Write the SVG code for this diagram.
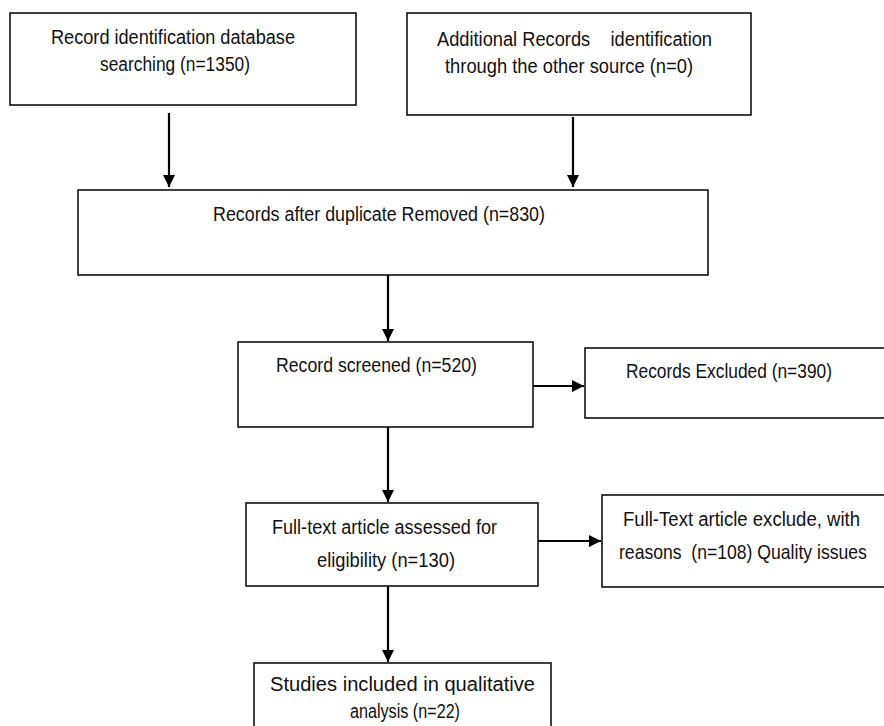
<svg xmlns="http://www.w3.org/2000/svg" width="884" height="726" viewBox="0 0 884 726">
<defs>
<marker id="ah" viewBox="0 0 10 10" refX="10" refY="5" markerWidth="5.5" markerHeight="5.5" markerUnits="strokeWidth" orient="auto">
<path d="M0,0 L10,5 L0,10 Z" fill="#000"/>
</marker>
<style>
.box{fill:#fff;stroke:#000;stroke-width:1.5}
.t{font-family:"Liberation Sans",Arial,sans-serif;font-size:20px;fill:#111}
.c{stroke:#000;stroke-width:2.2;fill:none}
</style>
</defs>
<rect width="884" height="726" fill="#fff"/>
<g id="n1">
<rect class="box" x="10" y="13" width="346" height="92"/>
<text class="t" x="51" y="44" textLength="244" lengthAdjust="spacingAndGlyphs">Record identification database</text>
<text class="t" x="100" y="71" textLength="150" lengthAdjust="spacingAndGlyphs">searching (n=1350)</text>
</g>
<g id="n2">
<rect class="box" x="407" y="13" width="344" height="102"/>
<text class="t" x="437" y="46" textLength="275" lengthAdjust="spacingAndGlyphs" xml:space="preserve">Additional Records    identification</text>
<text class="t" x="445" y="73" textLength="248" lengthAdjust="spacingAndGlyphs">through the other source (n=0)</text>
</g>
<g id="n3">
<rect class="box" x="78" y="190" width="630" height="85"/>
<text class="t" x="213" y="221" textLength="332" lengthAdjust="spacingAndGlyphs">Records after duplicate Removed (n=830)</text>
</g>
<g id="n4">
<rect class="box" x="238" y="342" width="295" height="85"/>
<text class="t" x="276" y="372" textLength="201" lengthAdjust="spacingAndGlyphs">Record screened (n=520)</text>
</g>
<g id="n5">
<path class="box" d="M884,348 H585 V418 H884"/>
<text class="t" x="626" y="378" textLength="206" lengthAdjust="spacingAndGlyphs">Records Excluded (n=390)</text>
</g>
<g id="n6">
<rect class="box" x="246" y="503" width="292" height="83"/>
<text class="t" x="272" y="534" textLength="225" lengthAdjust="spacingAndGlyphs">Full-text article assessed for</text>
<text class="t" x="317" y="567" textLength="138" lengthAdjust="spacingAndGlyphs">eligibility (n=130)</text>
</g>
<g id="n7">
<path class="box" d="M884,495 H602 V587 H884"/>
<text class="t" x="623" y="526" textLength="237" lengthAdjust="spacingAndGlyphs">Full-Text article exclude, with</text>
<text class="t" x="0" y="0" transform="translate(619,559) scale(0.88,1)" xml:space="preserve">reasons  (n=108) Quality issues</text>
</g>
<g id="n8">
<path class="box" d="M254,726 V663 H551 V726"/>
<text class="t" x="270" y="691" textLength="265" lengthAdjust="spacingAndGlyphs">Studies included in qualitative</text>
<text class="t" x="350" y="718" textLength="110" lengthAdjust="spacingAndGlyphs">analysis (n=22)</text>
</g>
<g id="connectors">
<line class="c" x1="169" y1="113" x2="169" y2="187" marker-end="url(#ah)"/>
<line class="c" x1="573" y1="117" x2="573" y2="187" marker-end="url(#ah)"/>
<line class="c" x1="388" y1="275" x2="388" y2="341" marker-end="url(#ah)"/>
<line class="c" x1="533" y1="386" x2="584" y2="386" marker-end="url(#ah)"/>
<line class="c" x1="388" y1="427" x2="388" y2="502" marker-end="url(#ah)"/>
<line class="c" x1="538" y1="541" x2="601" y2="541" marker-end="url(#ah)"/>
<line class="c" x1="388" y1="586" x2="388" y2="662" marker-end="url(#ah)"/>
</g>
</svg>
